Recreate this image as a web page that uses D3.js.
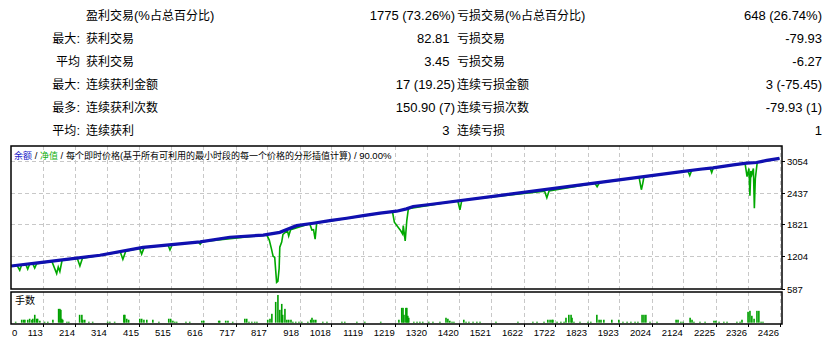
<!DOCTYPE html>
<html>
<head>
<meta charset="utf-8">
<script src="https://cdn.jsdelivr.net/npm/d3@7"></script>
<style>
body { margin: 0; background: #fff; }
svg { display: block; font-family: "Liberation Sans", Arial, "Noto Sans CJK SC", sans-serif; white-space: pre; }
</style>
</head>
<body>
<svg id="chart" width="831" height="339"></svg>
<script>
// summary table rows
var rowPrefixes = ["", "最大:", "平均", "最大:", "最多:", "平均:"];
var winLabels = ["盈利交易(%占总百分比)", "获利交易", "获利交易", "连续获利金额", "连续获利次数", "连续获利"];
var winValues = ["1775 (73.26%)", "82.81", "3.45", "17 (19.25)", "150.90 (7)", "3"];
var lossLabels = ["亏损交易(%占总百分比)", "亏损交易", "亏损交易", "连续亏损金额", "连续亏损次数", "连续亏损"];
var lossValues = ["648 (26.74%)", "-79.93", "-6.27", "3 (-75.45)", "-79.93 (1)", "1"];

// chart captions
var titleBalance = "余额";
var titleEquity = "净值";
var titleRest = "每个即时价格(基于所有可利用的最小时段的每一个价格的分形插值计算) / 90.00%";
var volumeTitle = "手数";

// axes
var xTicks = [0, 113, 214, 314, 415, 515, 616, 717, 817, 918, 1018, 1119, 1219, 1320, 1420,
              1521, 1622, 1722, 1823, 1923, 2024, 2124, 2225, 2326, 2426];
var yTicks = [587, 1204, 1821, 2437, 3054];

// balance curve [trade, value]
var balancePoints = [
    [12, 1020], [102, 1086], [186, 1150], [291, 1228], [426, 1378], [500, 1423], [606, 1487],
    [699, 1575], [804, 1617], [856, 1669], [909, 1798], [961, 1844], [1013, 1895], [1066, 1941],
    [1118, 1992], [1171, 2039], [1223, 2077], [1254, 2122], [1275, 2167], [1328, 2206],
    [1550, 2383], [1850, 2623], [2113, 2835], [2176, 2886], [2217, 2913], [2281, 2971],
    [2323, 3002], [2354, 3016], [2386, 3055], [2426, 3094]
];

// equity curve [trade, value]
var equityPoints = [
    [12, 1020], [30, 1040], [39, 940], [45, 1045], [58, 1050], [64, 960], [70, 1055], [80, 1060],
    [86, 980], [92, 1065], [140, 1110], [155, 875], [160, 1000], [165, 915], [172, 1130],
    [220, 1165], [228, 1020], [236, 1170], [355, 1290], [363, 1150], [372, 1305],
    [415, 1365], [422, 1250], [430, 1380], [505, 1425], [511, 1330], [518, 1430],
    [600, 1485], [606, 1440], [612, 1490], [815, 1620], [823, 1520], [830, 1345], [835, 1209],
    [840, 1190], [846, 704], [850, 723], [854, 976], [856, 1384], [862, 1481], [866, 1630],
    [880, 1700], [884, 1600], [890, 1720], [950, 1835], [957, 1714], [962, 1720], [967, 1539],
    [972, 1850], [1210, 2070], [1216, 1864], [1236, 1700], [1242, 1636], [1244, 1798],
    [1250, 1506], [1255, 1895], [1260, 2125], [1415, 2280], [1422, 2103], [1428, 2290],
    [1688, 2460], [1695, 2336], [1702, 2466], [1846, 2615], [1853, 2550], [1860, 2625],
    [1985, 2725], [1992, 2491], [1996, 2600], [2000, 2735], [2138, 2855], [2144, 2763],
    [2150, 2860], [2208, 2905], [2213, 2822], [2218, 2913], [2318, 2995], [2324, 2744],
    [2330, 2900], [2333, 2375], [2336, 2850], [2339, 2783], [2344, 2900], [2347, 2132],
    [2350, 2700], [2353, 2861], [2356, 3016], [2426, 3094]
];

// lots per trade [trade, lots]
var volumePoints = [
    [26, .01], [45, .03], [51, .03], [55, .03], [64, .03], [70, .04], [77, .03], [80, .04], [86, .08],
    [92, .04], [95, .04], [102, .02], [117, .01], [127, .01], [143, .03], [161, .14], [165, .14],
    [168, .13], [171, .04], [174, .03], [187, .01], [193, .01], [227, .08], [234, .08], [237, .03],
    [243, .03], [256, .01], [268, .01], [315, .01], [322, .01], [337, .01], [366, .08], [369, .08],
    [375, .04], [381, .03], [416, .04], [422, .04], [429, .03], [438, .03], [457, .03], [476, .01],
    [507, .04], [513, .04], [520, .02], [526, .01], [532, .01], [561, .01], [573, .01], [611, .02],
    [617, .02], [664, .02], [667, .02], [686, .02], [693, .02], [708, .01], [746, .04], [752, .04],
    [759, .01], [768, .01], [777, .01], [784, .01], [818, .03], [825, .04], [831, .09], [843, .21],
    [850, .28], [856, .13], [862, .19], [865, .08], [872, .14], [878, .03], [884, .03], [891, .03],
    [897, .01], [906, .01], [916, .01], [925, .01], [944, .01], [953, .03], [957, .05], [963, .03],
    [969, .03], [991, .01], [1004, .01], [1051, .01], [1060, .01], [1098, .01], [1123, .01],
    [1173, .01], [1230, .03], [1239, .15], [1243, .15], [1246, .08], [1252, .15], [1255, .15],
    [1258, .07], [1261, .05], [1277, .01], [1287, .01], [1296, .01], [1305, .01], [1324, .01],
    [1337, .01], [1359, .01], [1378, .05], [1384, .04], [1390, .02], [1397, .01], [1403, .01],
    [1434, .03], [1441, .01], [1450, .01], [1463, .01], [1475, .01], [1485, .01], [1535, .01],
    [1604, .01], [1651, .01], [1664, .01], [1686, .01], [1698, .03], [1705, .03], [1711, .03],
    [1714, .03], [1727, .01], [1739, .01], [1749, .01], [1755, .05], [1764, .08], [1771, .08],
    [1774, .05], [1780, .01], [1799, .01], [1824, .01], [1833, .01], [1852, .08], [1859, .03],
    [1865, .03], [1874, .03], [1899, .03], [1921, .03], [1934, .01], [1947, .01], [1959, .01],
    [1972, .01], [1981, .01], [1994, .08], [2000, .08], [2006, .08], [2019, .01], [2041, .01],
    [2101, .03], [2107, .03], [2116, .01], [2123, .01], [2145, .05], [2151, .03], [2157, .01],
    [2176, .01], [2192, .01], [2220, .02], [2226, .02], [2236, .01], [2251, .01], [2261, .01],
    [2292, .01], [2302, .01], [2308, .03], [2327, .11], [2333, .12], [2339, .07], [2346, .04],
    [2355, .12], [2361, .12], [2368, .01], [2374, .01]
];

var svg = d3.select("#chart");

var main = {left: 11, right: 782, top: 146, bottom: 289};
var vol = {top: 292, bottom: 324};

var x = d3.scaleLinear().domain([113, 2426]).range([43.3, 779.5]);
var y = d3.scaleLinear().domain([587, 3054]).range([288.5, 160.5]);
var yv = d3.scaleLinear().domain([0, 0.30]).range([vol.bottom - 1.3, vol.top + 1]);

var isCJK = /[\u3000-\u9fff\uff00-\uffef]/;

// append text runs, CJK and latin get their own sizes
function addRuns(textSel, str, latinSize, cjkSize, color) {
    var runs = str.match(/[\u3000-\u9fff\uff00-\uffef]+|[^\u3000-\u9fff\uff00-\uffef]+/g);
    runs.forEach(function(r) {
        var cjk = isCJK.test(r);
        textSel.append("tspan")
            .text(r)
            .attr("fill", color)
            .style("font-size", (cjk ? cjkSize : latinSize) + "px")
            .style("font-family", cjk ? '"Noto Sans CJK SC", sans-serif' : '"Liberation Sans", Arial, sans-serif');
    });
    return textSel;
}

function tableText(str, px, py, anchor) {
    var t = svg.append("text").attr("x", px).attr("y", py).attr("text-anchor", anchor);
    addRuns(t, str, 13, 12, "#000");
}

// Draw the summary table
for (var i = 0; i < winLabels.length; i++) {
    var rowY = 20 + i * 23;
    if (rowPrefixes[i].length > 0) {
        tableText(rowPrefixes[i], 80, rowY, "end");
    }
    tableText(winLabels[i], 86, rowY, "start");
    tableText(winValues[i], winValues[i].endsWith(")") ? 455 : 449.5, rowY, "end");
    tableText(lossLabels[i], 457, rowY, "start");
    tableText(lossValues[i], 822, rowY, "end");
}

var clip = svg.append("defs");
clip.append("clipPath").attr("id", "mainClip")
    .append("rect")
    .attr("x", main.left).attr("y", main.top)
    .attr("width", main.right - main.left).attr("height", main.bottom - main.top);

// grid
var grid = svg.append("g")
    .attr("stroke", "#c8c8c8")
    .attr("stroke-width", 1)
    .attr("stroke-dasharray", "4,3");

grid.selectAll("line.h")
    .data(yTicks.slice(1))
    .enter().append("line")
    .attr("x1", main.left).attr("x2", main.right)
    .attr("y1", function(d) { return Math.round(y(d)) + 0.5; })
    .attr("y2", function(d) { return Math.round(y(d)) + 0.5; });

var vTicks = xTicks.slice(1);
grid.selectAll("line.vm")
    .data(vTicks)
    .enter().append("line")
    .attr("x1", function(d) { return Math.round(x(d)) + 0.5; })
    .attr("x2", function(d) { return Math.round(x(d)) + 0.5; })
    .attr("y1", main.top).attr("y2", main.bottom);

grid.selectAll("line.vv")
    .data(vTicks)
    .enter().append("line")
    .attr("x1", function(d) { return Math.round(x(d)) + 0.5; })
    .attr("x2", function(d) { return Math.round(x(d)) + 0.5; })
    .attr("y1", vol.top).attr("y2", vol.bottom);

// equity and balance
var line = d3.line()
    .x(function(d) { return x(d[0]); })
    .y(function(d) { return y(d[1]); });

var plot = svg.append("g").attr("clip-path", "url(#mainClip)");

plot.append("path")
    .datum(equityPoints)
    .attr("d", line)
    .attr("fill", "none")
    .attr("stroke", "#00a800")
    .attr("stroke-width", 1.6);

plot.append("path")
    .datum(balancePoints)
    .attr("d", line)
    .attr("fill", "none")
    .attr("stroke", "#1010b0")
    .attr("stroke-width", 3.2);

// lots bars
svg.append("g")
    .selectAll("rect")
    .data(volumePoints)
    .enter().append("rect")
    .attr("x", function(d) { return x(d[0]) - 0.75; })
    .attr("width", 1.6)
    .attr("y", function(d) { return yv(d[1]); })
    .attr("height", function(d) { return yv(0) - yv(d[1]); })
    .attr("fill", "#00a000");

// panel frames
svg.append("rect")
    .attr("x", main.left).attr("y", main.top)
    .attr("width", main.right - main.left).attr("height", main.bottom - main.top)
    .attr("fill", "none").attr("stroke", "#000").attr("stroke-width", 1.5);

svg.append("rect")
    .attr("x", main.left).attr("y", vol.top)
    .attr("width", main.right - main.left).attr("height", vol.bottom - vol.top)
    .attr("fill", "none").attr("stroke", "#000").attr("stroke-width", 1.5);

// chart captions
var title = svg.append("text").attr("x", 14).attr("y", 158.5);
addRuns(title, titleBalance, 9.5, 9, "#2020c8");
addRuns(title, " / ", 9.5, 9, "#000");
addRuns(title, titleEquity, 9.5, 9, "#10b010");
addRuns(title, " / " + titleRest, 9.5, 9, "#000");

var vt = svg.append("text").attr("x", 15).attr("y", 303.5);
addRuns(vt, volumeTitle, 10, 10, "#000");

// right axis
var yAxis = svg.append("g").attr("font-size", 9.5).attr("fill", "#000");
yAxis.selectAll("line")
    .data(yTicks)
    .enter().append("line")
    .attr("x1", main.right).attr("x2", main.right + 3)
    .attr("y1", function(d) { return Math.round(y(d)) + 0.5; })
    .attr("y2", function(d) { return Math.round(y(d)) + 0.5; })
    .attr("stroke", "#000");
yAxis.selectAll("text")
    .data(yTicks)
    .enter().append("text")
    .attr("x", 787)
    .attr("y", function(d) { return y(d) + 4; })
    .text(function(d) { return d; });

// bottom axis
var xAxis = svg.append("g").attr("font-size", 9.5).attr("fill", "#000");
xAxis.selectAll("line")
    .data(vTicks)
    .enter().append("line")
    .attr("x1", function(d) { return Math.round(x(d)) + 0.5; })
    .attr("x2", function(d) { return Math.round(x(d)) + 0.5; })
    .attr("y1", vol.bottom).attr("y2", vol.bottom + 3)
    .attr("stroke", "#000");
xAxis.selectAll("text")
    .data(xTicks)
    .enter().append("text")
    .attr("x", function(d) { return d === 0 ? Math.max(x(d), main.left + 1) : x(d) - 0.5; })
    .attr("y", 336)
    .attr("text-anchor", function(d) { return d === 0 ? "start" : "end"; })
    .text(function(d) { return d; });
</script>
</body>
</html>
